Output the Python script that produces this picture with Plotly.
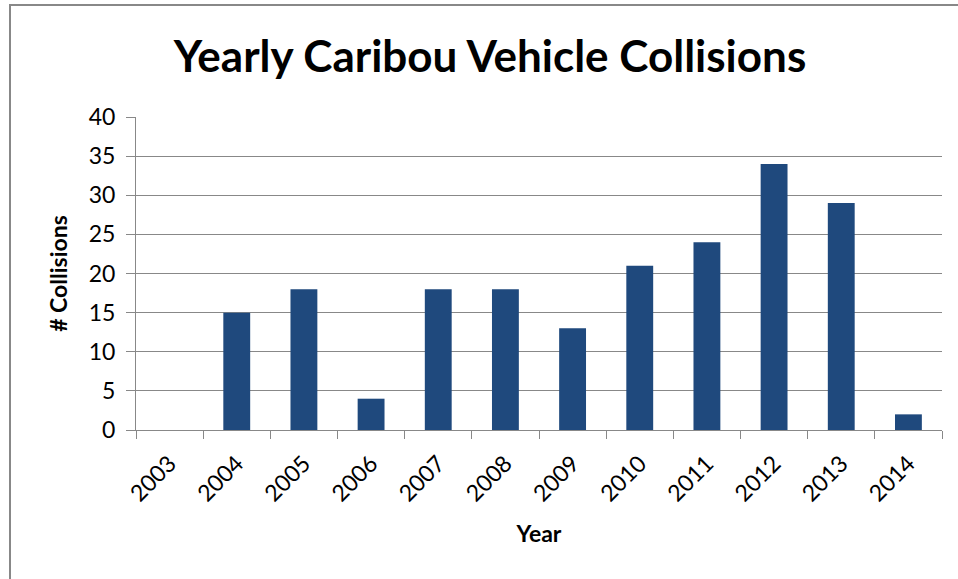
import plotly.graph_objects as go

years = ["2003", "2004", "2005", "2006", "2007", "2008", "2009", "2010", "2011", "2012", "2013", "2014"]
collisions = [0, 15, 18, 4, 18, 18, 13, 21, 24, 34, 29, 2]
y_ticks = [0, 5, 10, 15, 20, 25, 30, 35, 40]

FONT = "Lato"
GRAY = "#888888"

fig = go.Figure(go.Bar(x=years, y=collisions, marker=dict(color="#1F497D", line=dict(width=0)),
                       hoverinfo="skip"))

fig.update_layout(
    width=958, height=579,
    margin=dict(l=136, r=16, t=117, b=149),
    paper_bgcolor="white", plot_bgcolor="white",
    bargap=0.6,
    showlegend=False,
    title=dict(text="<b>Yearly Caribou Vehicle Collisions</b>", x=490 / 958, xanchor="center",
               y=1 - 57 / 579, yanchor="middle",
               font=dict(family=FONT, size=44, color="black")),
    font=dict(family=FONT, color="black"),
)

fig.update_yaxes(
    range=[0, 40], tickvals=y_ticks, ticktext=[str(v) for v in y_ticks],
    showgrid=True, gridcolor=GRAY, gridwidth=1,
    showline=True, linecolor=GRAY, linewidth=1,
    ticks="outside", ticklen=9, tickcolor=GRAY,
    ticklabelstandoff=6,
    tickfont=dict(family=FONT, size=23, color="black"),
    title=dict(text="<b># Collisions</b>", font=dict(family=FONT, size=23, color="black"), standoff=14),
    zeroline=False,
)
fig.update_xaxes(
    type="category", tickangle=-45, tickson="boundaries",
    showline=True, linecolor=GRAY, linewidth=1,
    ticks="outside", ticklen=8, tickcolor=GRAY,
    ticklabelstandoff=10,
    tickfont=dict(family=FONT, size=23, color="black"),
    title=dict(text="<b>Year</b>", font=dict(family=FONT, size=23, color="black"), standoff=20),
)

fig.add_shape(type="rect", xref="paper", yref="paper",
              x0=(10 - 136) / 806, x1=1.2, y0=-0.6, y1=(430 - 5) / 313,
              line=dict(color=GRAY, width=2), fillcolor="rgba(0,0,0,0)", layer="below")

fig.write_html("out.html", config={"displayModeBar": False},
               post_script="document.body.style.margin='0';document.body.style.padding='0';")
